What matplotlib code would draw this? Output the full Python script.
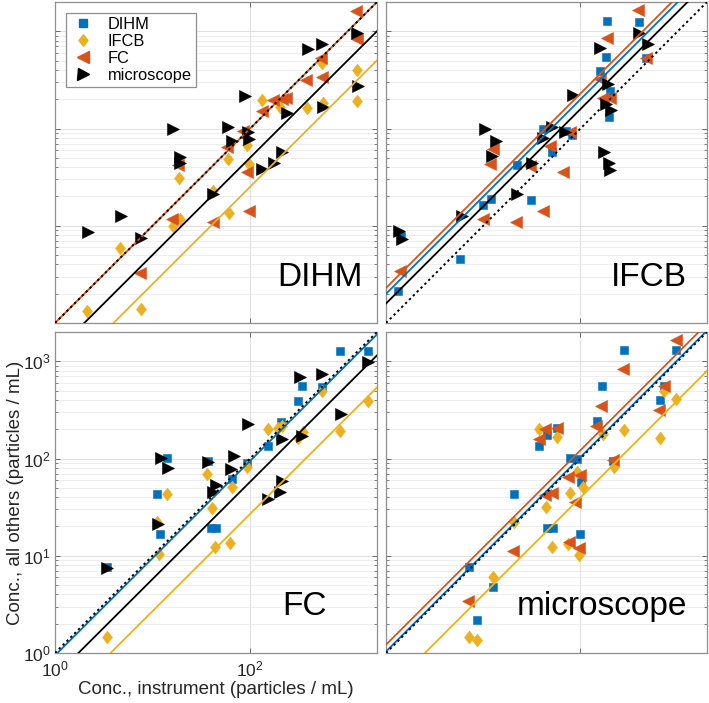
import numpy as np
import matplotlib
matplotlib.use("Agg")
import matplotlib.pyplot as plt
from matplotlib.lines import Line2D
from matplotlib.ticker import FixedLocator, NullLocator, LogLocator, LogFormatterMathtext, NullFormatter

plt.rcParams['font.family'] = ['Liberation Sans', 'DejaVu Sans']
plt.rcParams['mathtext.default'] = 'regular'

instruments = ["DIHM", "IFCB", "FC", "microscope"]
colors = {"DIHM": "#0072BD", "IFCB": "#EDB120", "FC": "#D95319", "microscope": "#000000"}
diamond = [(0, 1), (0.78, 0), (0, -1), (-0.78, 0), (0, 1)]
markers = {"DIHM": "s", "IFCB": diamond, "FC": "<", "microscope": ">"}
msizes = {"DIHM": 6.2, "IFCB": 9.2, "FC": 8.8, "microscope": 8.8}

# ---------------- panel: DIHM on x ----------------
x_DIHM_IFCB = [2.15, 4.6, 7.6, 16.1, 19.1, 18.8, 42, 60, 61.4, 94, 98.4, 132, 203, 387, 543, 556, 1262, 1262]
y_DIHM_IFCB = [1.33, 5.9, 1.40, 10.0, 11.8, 31, 23, 48.5, 13.4, 68, 43, 195, 167, 162, 475, 185, 397, 192]
x_DIHM_FC = [7.4, 15.7, 18.4, 42, 57.6, 85.5, 94, 98.4, 132, 173, 211, 234, 375, 531, 543, 1222, 1262]
y_DIHM_FC = [3.3, 11.8, 42, 10.9, 64, 95, 35.4, 14.1, 152, 195, 200, 208, 313, 535, 339, 1610, 824]
x_DIHM_micro = [2.2, 4.8, 7.7, 16.1, 19.1, 19.1, 42, 60, 64.9, 88.9, 96, 98.4, 132, 176, 211, 241, 396, 543, 556, 1262, 1271]
y_DIHM_micro = [8.6, 12.7, 7.5, 100, 51, 43.8, 21.2, 104, 74.7, 216, 91, 77.8, 38.3, 44, 58, 146, 662, 733, 167, 966, 274]

# ---------------- panel: IFCB on x ----------------
x_IFCB_DIHM = [1.33, 1.43, 5.8, 10.0, 11.9, 22, 31, 41.4, 50.4, 71.8, 80.9, 158, 182, 189, 200, 197, 400, 468]
y_IFCB_DIHM = [2.13, 7.9, 4.6, 16.5, 18.8, 42, 18.5, 98, 58, 95, 86, 390, 547, 1271, 243, 130, 1251, 535]
x_IFCB_FC = [1.40, 9.9, 11.6, 12.7, 21.5, 30.2, 40.8, 48.5, 66, 77.8, 158, 171, 188, 203, 390, 475]
y_IFCB_FC = [3.4, 11.6, 43, 61, 10.9, 40.8, 14.1, 66, 35.4, 91, 321, 208, 844, 208, 1636, 535]
x_IFCB_micro = [1.35, 1.46, 6.0, 10.4, 13.5, 12.2, 22, 31.4, 41.4, 50.4, 69, 82.8, 158, 173, 192, 185, 197, 200, 208, 400, 494]
y_IFCB_micro = [8.9, 7.3, 12.7, 100, 75, 52, 21.2, 43.8, 80, 104, 91, 220, 667, 58, 285, 178, 43.8, 37.4, 154, 966, 733]

# ---------------- panel: FC on x ----------------
x_FC_DIHM = [3.39, 14.0, 11.0, 11.9, 36.8, 39.5, 44.8, 64.9, 94, 154, 208, 313, 344, 543, 838, 1610]
y_FC_DIHM = [7.7, 101, 42.7, 16.6, 95, 19.1, 19.1, 62, 90, 136, 240, 393, 561, 539, 1282, 1262]
x_FC_IFCB = [3.39, 14.0, 11.0, 11.7, 36, 41, 43.8, 62.4, 65, 94, 154, 195, 211, 308, 352, 543, 838, 1610]
y_FC_IFCB = [1.47, 42.7, 22.4, 10.5, 70, 31, 12.3, 13.6, 51, 81.5, 201, 205, 218, 162, 186, 498, 194, 393]
x_FC_micro = [3.39, 12.2, 14.3, 11.3, 36.8, 42, 44.8, 69, 64, 96, 211, 154, 203, 211, 326, 344, 552, 858, 1636]
y_FC_micro = [7.5, 101, 80, 21.4, 93, 45.5, 53, 106, 78, 227, 159, 38.6, 45, 59, 683, 169, 738, 287, 973]

# ---------------- panel: microscope on x ----------------
x_micro_DIHM = [7.2, 8.6, 12.5, 20.7, 37.7, 44.8, 44.8, 51.6, 56.7, 77.8, 92.4, 98.4, 102, 148, 168, 216, 278, 651, 716, 966]
y_micro_DIHM = [7.7, 2.2, 4.75, 43, 134, 173, 19.1, 19.1, 208, 102, 99, 16.6, 57.6, 243, 556, 94, 1291, 397, 552, 1291]
x_micro_IFCB = [7.2, 8.6, 12.5, 20.7, 37.7, 44, 50.4, 57.6, 74.7, 77.8, 91, 97, 105, 171, 220, 278, 651, 716, 966]
y_micro_IFCB = [1.46, 1.35, 6.0, 22.4, 203, 31.4, 12.2, 167, 13.2, 43.8, 73, 10.2, 51, 180, 81, 195, 164, 494, 406]
x_micro_FC = [7.0, 20.4, 37.7, 43, 50.4, 43, 57.6, 76.5, 74.7, 87.5, 98.4, 97, 146, 164, 216, 274, 641, 716, 951]
y_micro_FC = [3.44, 11.3, 157, 42, 44.5, 203, 208, 14, 65, 36, 67.5, 11.9, 215, 344, 96, 838, 318, 552, 1663]

# fitted log10 offsets (slope-1 lines), per panel and other instrument
fit_DIHM = {"IFCB": -0.60, "FC": 0.0, "microscope": -0.30}
fit_IFCB = {"DIHM": 0.30, "FC": 0.36, "microscope": 0.20}
fit_FC = {"DIHM": -0.025, "IFCB": -0.57, "microscope": -0.24}
fit_micro = {"DIHM": 0.015, "IFCB": -0.40, "FC": 0.085}

panels = [
    ("DIHM", {"IFCB": (x_DIHM_IFCB, y_DIHM_IFCB), "FC": (x_DIHM_FC, y_DIHM_FC),
              "microscope": (x_DIHM_micro, y_DIHM_micro)}, fit_DIHM),
    ("IFCB", {"DIHM": (x_IFCB_DIHM, y_IFCB_DIHM), "FC": (x_IFCB_FC, y_IFCB_FC),
              "microscope": (x_IFCB_micro, y_IFCB_micro)}, fit_IFCB),
    ("FC", {"DIHM": (x_FC_DIHM, y_FC_DIHM), "IFCB": (x_FC_IFCB, y_FC_IFCB),
            "microscope": (x_FC_micro, y_FC_micro)}, fit_FC),
    ("microscope", {"DIHM": (x_micro_DIHM, y_micro_DIHM), "IFCB": (x_micro_IFCB, y_micro_IFCB),
                    "FC": (x_micro_FC, y_micro_FC)}, fit_micro),
]

label_pos = {"DIHM": (0.69, 0.115), "IFCB": (0.70, 0.115), "FC": (0.705, 0.118), "microscope": (0.407, 0.118)}

W, H = 709, 703
fig = plt.figure(figsize=(W / 100, H / 100), dpi=100)
rects = [
    [55 / W, 1 - 323 / H, 322 / W, 321 / H],
    [386 / W, 1 - 323 / H, 321 / W, 321 / H],
    [55 / W, 1 - 653 / H, 322 / W, 321 / H],
    [386 / W, 1 - 653 / H, 321 / W, 321 / H],
]
lim = (1, 2000)
spine_col = "#8f8f8f"

for i, (name, series, fits) in enumerate(panels):
    ax = fig.add_axes(rects[i])
    ax.set_xscale("log")
    ax.set_yscale("log")
    ax.set_xlim(*lim)
    ax.set_ylim(*lim)
    for inst in instruments:
        if inst in series:
            xs, ys = series[inst]
            ax.plot(xs, ys, linestyle="none", marker=markers[inst], ms=msizes[inst],
                    color=colors[inst], mec=colors[inst], mew=0.4, zorder=3)
    xl = np.array(lim, dtype=float)
    for inst in instruments:
        if inst in fits:
            ax.plot(xl, xl * 10 ** fits[inst], color=colors[inst], lw=1.3, zorder=4)
    ax.plot(xl, xl, color="black", lw=1.4, linestyle=(0, (1.2, 1.6)), zorder=5)

    ax.xaxis.set_major_locator(FixedLocator([1, 100]))
    ax.xaxis.set_minor_locator(NullLocator())
    ax.yaxis.set_major_locator(FixedLocator([1, 10, 100, 1000]))
    ax.yaxis.set_minor_locator(LogLocator(base=10, subs=np.arange(2, 10), numticks=20))
    ax.yaxis.set_minor_formatter(NullFormatter())
    ax.grid(True, which="major", color="#dadada", lw=0.6)
    ax.grid(True, which="minor", axis="y", color="#ebebeb", lw=0.6)
    ax.set_axisbelow(True)
    ax.tick_params(which="both", direction="in", top=True, right=True, color="#555555",
                   labelsize=12.5, labelcolor="#262626")
    ax.tick_params(axis="y", pad=3)
    ax.tick_params(axis="x", pad=5)
    ax.tick_params(which="major", length=3.5, width=0.6)
    ax.tick_params(which="minor", length=2, width=0.5)
    for s in ax.spines.values():
        s.set_color(spine_col)
        s.set_linewidth(0.9)
    if i == 2:
        ax.xaxis.set_major_formatter(LogFormatterMathtext())
        ax.yaxis.set_major_formatter(LogFormatterMathtext())
        ax.set_xlabel("Conc., instrument (particles / mL)", fontsize=13.5, color="#262626", labelpad=1)
        ax.set_ylabel("Conc., all others (particles / mL)", fontsize=13.5, color="#262626")
        ax.yaxis.set_label_coords(-0.095, 0.5)
    else:
        ax.set_xticklabels([])
        ax.set_yticklabels([])
    lx, ly = label_pos[name]
    ax.text(lx, ly, name, transform=ax.transAxes, fontsize=24, ha="left", va="baseline", zorder=6)

    if i == 0:
        handles = [Line2D([], [], linestyle="none", marker=markers[k], ms=msizes[k] * 0.9,
                          color=colors[k], mec=colors[k]) for k in instruments]
        leg = ax.legend(handles, instruments, loc="upper left", bbox_to_anchor=(0.034, 0.966),
                        borderaxespad=0, fontsize=11.8, frameon=True, fancybox=False,
                        edgecolor=spine_col, framealpha=1, handlelength=1.6, handletextpad=0.7,
                        borderpad=0.25, labelspacing=0.12)
        leg.get_frame().set_linewidth(0.9)
        leg.set_zorder(10)

fig.savefig("out.png", dpi=100)
